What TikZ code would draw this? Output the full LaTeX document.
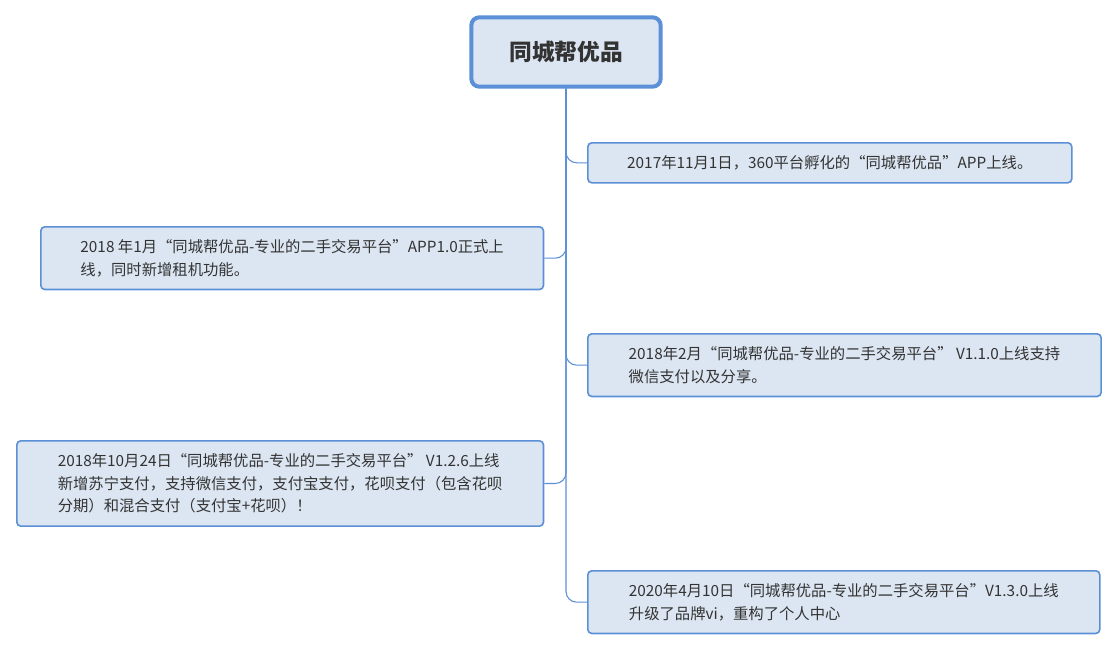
\documentclass[tikz,border=0pt]{standalone}
\usepackage{fontspec}
\setmainfont{Noto Sans CJK SC}
\usetikzlibrary{positioning}
\definecolor{boxfill}{HTML}{DCE6F2}
\definecolor{boxline}{HTML}{5B8FD6}
\definecolor{txt}{HTML}{333333}
\tikzset{
  topic/.style={draw=boxline, fill=boxfill, rounded corners=3pt, line width=1.2pt, text=txt, font=\fontsize{11.5}{17}\selectfont, align=left, inner xsep=12pt, inner ysep=6pt, anchor=north west},
  link/.style={draw=boxline, line width=0.8pt, rounded corners=8pt}
}
\begin{document}
\begin{tikzpicture}[x=0.75pt,y=-0.75pt]
\useasboundingbox (0,0) rectangle (1119,651);
\node[draw=boxline, fill=boxfill, rounded corners=6pt, line width=3pt, text=txt, font=\fontsize{17}{20}\bfseries\selectfont, minimum width=142pt, minimum height=52pt] (root) at (566,52) {同城帮优品};
\node[topic, minimum width=363pt, minimum height=30pt] (b1) at (587,142) {2017年11月1日，360平台孵化的“同城帮优品”APP上线。};
\node[topic, minimum width=377pt, minimum height=47pt] (b2) at (40,226) {2018 年1月“同城帮优品-专业的二手交易平台”APP1.0正式上\\线，同时新增租机功能。};
\node[topic, minimum width=385pt, minimum height=47pt] (b3) at (587,333) {2018年2月“同城帮优品-专业的二手交易平台” V1.1.0上线支持\\微信支付以及分享。};
\node[topic, minimum width=395pt, minimum height=64pt] (b4) at (16,440) {2018年10月24日“同城帮优品-专业的二手交易平台” V1.2.6上线\\新增苏宁支付，支持微信支付，支付宝支付，花呗支付（包含花呗\\分期）和混合支付（支付宝+花呗）！};
\node[topic, minimum width=384pt, minimum height=47pt] (b5) at (587,570) {2020年4月10日“同城帮优品-专业的二手交易平台”V1.3.0上线\\升级了品牌vi，重构了个人中心};
% branches
\draw[link] (root.south) |- (b1.west);
\draw[link] (root.south) |- (b2.east);
\draw[link] (root.south) |- (b3.west);
\draw[link] (root.south) |- (b4.east);
\draw[link] (root.south) |- (b5.west);
\end{tikzpicture}
\end{document}
